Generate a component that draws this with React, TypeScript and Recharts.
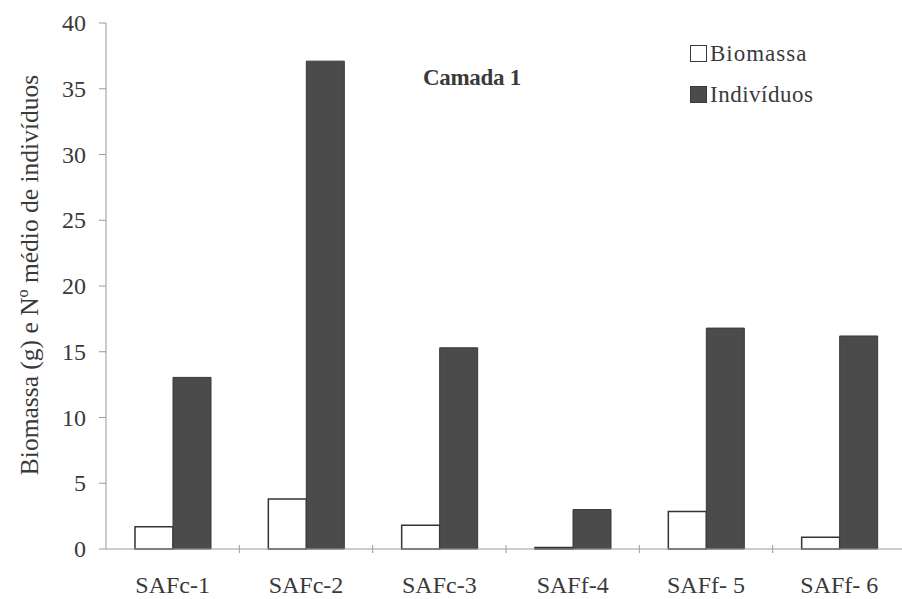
import { BarChart, Bar, XAxis, YAxis } from 'recharts';

const sites = ['SAFc-1', 'SAFc-2', 'SAFc-3', 'SAFf-4', 'SAFf- 5', 'SAFf- 6'];
const biomassa = [1.7, 3.8, 1.8, 0.12, 2.85, 0.9];
const individuos = [13.05, 37.1, 15.3, 3.0, 16.8, 16.2];
const yTicks = [0, 5, 10, 15, 20, 25, 30, 35, 40];

const data = sites.map((site, i) => ({
  site,
  biomassa: biomassa[i],
  individuos: individuos[i],
}));

const FONT = "'Liberation Serif', serif";
const TEXT = '#3a3a3a';
const AXIS = '#9a9a9a';
const LIGHT = '#ffffff';
const DARK = '#4b4b4b';

const CHART_W = 920;
const CHART_H = 599;
const PLOT_LEFT = 106;
const PLOT_RIGHT = 906;
const BAND = (PLOT_RIGHT - PLOT_LEFT) / sites.length;

const CategoryTick = (props: any) => {
  const { x, payload } = props;
  return (
    <g>
      {payload.index > 0 && (
        <line x1={x - BAND / 2} x2={x - BAND / 2} y1={549 - 4} y2={549 + 4} stroke={AXIS} strokeWidth={1} />
      )}
      <text x={x} y={593} textAnchor="middle" style={{ fontFamily: FONT }} fontSize={24} fill={TEXT}>
        {payload.value}
      </text>
    </g>
  );
};

const YTick = (props: any) => {
  const { x, y, payload } = props;
  return (
    <text x={x} y={y} dy={8} textAnchor="end" style={{ fontFamily: FONT }} fontSize={24} fill={TEXT}>
      {payload.value}
    </text>
  );
};

const YLabel = () => (
  <text
    transform="translate(38, 275) rotate(-90)"
    textAnchor="middle"
    style={{ fontFamily: FONT }}
    fontSize={25.5}
    fill={TEXT}
  >
    Biomassa (g) e N
    <tspan dy={-10} fontSize={16}>o</tspan>
    <tspan dy={10}> médio de indivíduos</tspan>
  </text>
);

const legendItems = [
  { name: 'Biomassa', color: LIGHT, spacing: 1 },
  { name: 'Indivíduos', color: DARK, spacing: 0.5 },
];

export default function App() {
  return (
    <div
      style={{
        position: 'fixed',
        left: 0,
        top: 0,
        width: 902,
        height: 599,
        overflow: 'hidden',
        background: '#fff',
        fontFamily: FONT,
      }}
    >
      <BarChart
        width={CHART_W}
        height={CHART_H}
        data={data}
        margin={{ top: 23, right: CHART_W - PLOT_RIGHT, left: 0, bottom: 0 }}
        barGap={0}
        barSize={38}
        style={{ fontFamily: FONT }}
      >
        <XAxis
          dataKey="site"
          height={50}
          stroke={AXIS}
          tickLine={false}
          interval={0}
          tick={<CategoryTick />}
        />
        <YAxis
          width={PLOT_LEFT}
          domain={[0, 40]}
          ticks={yTicks}
          interval={0}
          stroke={AXIS}
          tickSize={7}
          tickMargin={13}
          tick={<YTick />}
          label={<YLabel />}
        />
        <Bar dataKey="biomassa" name="Biomassa" fill={LIGHT} stroke="#333333" strokeWidth={1.5} isAnimationActive={false} />
        <Bar dataKey="individuos" name="Indivíduos" fill={DARK} stroke="#3a3a3a" strokeWidth={1} isAnimationActive={false} />
      </BarChart>
      <div style={{ position: 'absolute', left: 690, top: 33, fontSize: 23, color: TEXT, lineHeight: '41px' }}>
        {legendItems.map((item) => (
          <div key={item.name} style={{ display: 'flex', alignItems: 'center' }}>
            <span
              style={{
                display: 'inline-block',
                width: 15,
                height: 15,
                background: item.color,
                border: '1.5px solid #3a3a3a',
                marginRight: 3,
              }}
            />
            <span style={{ letterSpacing: item.spacing }}>{item.name}</span>
          </div>
        ))}
      </div>
      <div
        style={{
          position: 'absolute',
          left: 423,
          top: 65,
          fontWeight: 'bold',
          fontSize: 23,
          color: TEXT,
          letterSpacing: -0.3,
        }}
      >
        Camada 1
      </div>
    </div>
  );
}
